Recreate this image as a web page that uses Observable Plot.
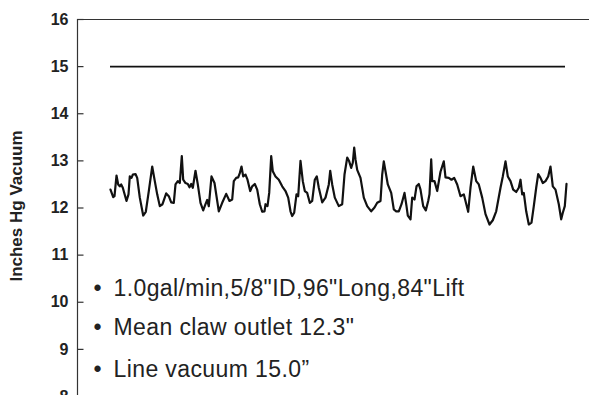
<!DOCTYPE html>
<html>
<head>
<meta charset="utf-8">
<script src="https://cdn.jsdelivr.net/npm/d3@7"></script>
<script src="https://cdn.jsdelivr.net/npm/@observablehq/plot@0.6"></script>
<style>
  body { margin: 0; background: #fff; }
  #chart svg { display: block; }
</style>
</head>
<body>
<div id="chart"></div>
<script>
// time (s) and claw outlet vacuum (in Hg)
const time = [0.66,0.714,0.74,0.78,0.814,0.846,0.874,0.906,0.98,1.02,1.046,1.08,1.106,1.16,1.194,1.246,1.314,1.366,1.426,1.494,1.546,1.594,1.646,1.70,1.774,1.826,1.874,1.926,1.96,2.006,2.046,2.086,2.114,2.16,2.206,2.24,2.274,2.306,2.36,2.406,2.46,2.514,2.56,2.594,2.626,2.68,2.74,2.826,2.894,2.974,3.04,3.094,3.126,3.174,3.214,3.246,3.28,3.314,3.36,3.40,3.454,3.494,3.546,3.594,3.646,3.694,3.74,3.76,3.80,3.834,3.874,3.906,3.96,4.026,4.094,4.16,4.214,4.26,4.294,4.334,4.38,4.414,4.46,4.506,4.546,4.594,4.646,4.694,4.746,4.786,4.826,4.894,4.96,5.026,5.054,5.094,5.146,5.226,5.294,5.34,5.394,5.434,5.474,5.506,5.534,5.56,5.594,5.66,5.726,5.794,5.874,5.94,5.994,6.06,6.094,6.126,6.16,6.206,6.274,6.326,6.374,6.426,6.48,6.54,6.58,6.606,6.66,6.694,6.74,6.78,6.826,6.86,6.914,6.966,7.014,7.04,7.074,7.094,7.14,7.194,7.26,7.326,7.36,7.426,7.48,7.534,7.594,7.66,7.726,7.814,7.86,7.914,7.974,8.026,8.094,8.16,8.24,8.306,8.374,8.46,8.506,8.56,8.606,8.66,8.714,8.774,8.826,8.86,8.894,8.926,8.974,9.026,9.08,9.126,9.174,9.214,9.26,9.306,9.36,9.414,9.46,9.506,9.56,9.626,9.674,9.706,9.746,9.78];
const vacuum = [12.39,12.23,12.25,12.69,12.50,12.46,12.50,12.43,12.15,12.29,12.67,12.64,12.71,12.72,12.64,12.22,11.84,11.92,12.36,12.88,12.57,12.29,12.04,12.08,12.31,12.25,12.12,12.11,12.50,12.57,12.53,13.10,12.60,12.53,12.51,12.44,12.51,12.43,12.79,12.50,12.11,11.95,12.08,12.17,12.04,12.67,12.53,11.93,12.11,12.30,12.15,12.18,12.57,12.64,12.65,12.74,12.88,12.67,12.71,12.60,12.36,12.46,12.51,12.39,12.08,11.92,11.93,12.08,12.04,12.32,13.10,12.78,12.67,12.60,12.46,12.36,12.22,11.93,11.83,11.90,12.29,12.25,13.00,12.57,12.36,12.32,12.11,12.15,12.60,12.67,12.43,12.12,12.22,12.50,12.79,12.50,12.22,12.04,12.08,12.71,13.07,12.99,12.85,12.96,13.28,13.03,12.81,12.64,12.22,12.04,11.93,12.01,12.11,12.15,12.71,12.99,12.78,12.50,12.32,11.97,11.93,11.93,12.08,12.32,12.04,11.84,11.76,12.22,12.18,12.46,12.51,12.39,12.04,11.95,12.15,12.29,13.03,12.57,12.57,12.36,12.77,12.99,12.65,12.64,12.60,12.64,12.50,12.25,12.29,11.92,12.43,12.88,12.57,12.50,12.22,11.87,11.65,11.74,11.93,12.43,12.67,12.99,12.67,12.57,12.39,12.34,12.43,12.60,12.29,12.32,11.93,11.65,11.69,12.04,12.43,12.72,12.64,12.53,12.57,12.67,12.88,12.46,12.39,12.08,11.76,11.90,12.04,12.51];
// line vacuum
const lineVacuum = [15.0];
const lineSpan = [0.66, 9.76];
const timeDomain = [0, 10.24];
const yDomain = [8, 16];
const yTicks = [8, 9, 10, 11, 12, 13, 14, 15, 16];
const yLabel = "Inches Hg Vacuum";
const notes = ['1.0gal/min,5/8"ID,96"Long,84"Lift', 'Mean claw outlet 12.3"', 'Line vacuum 15.0\u201d'];
const noteY = [10.49, 9.65, 8.76];

const trace = time.map((t, i) => ({t, v: vacuum[i]}));

const chart = Plot.plot({
  width: 589,
  height: 420,
  marginLeft: 77,
  marginRight: 0,
  marginTop: 19,
  marginBottom: 24,
  x: {domain: timeDomain, axis: null},
  y: {domain: yDomain, label: null},
  style: {fontFamily: "'Liberation Sans', Arial, sans-serif", background: "white", color: "#222"},
  marks: [
    Plot.ruleX([timeDomain[0]], {y1: yDomain[0], y2: yDomain[1], stroke: "#333", strokeWidth: 1.2}),
    Plot.ruleY([yDomain[1], yDomain[0]], {x1: timeDomain[0], x2: timeDomain[1], stroke: "#333", strokeWidth: 1.2}),
    Plot.ruleY(yTicks, {x1: timeDomain[0], x2: timeDomain[0] + 0.13, stroke: "#333", strokeWidth: 1.2}),
    Plot.axisY({ticks: yTicks, tickSize: 0, tickPadding: 9, fontSize: 16, fontWeight: "bold", label: null}),
    Plot.text([yLabel], {frameAnchor: "left", rotate: -90, textAnchor: "middle", dx: -61, dy: -2, fontSize: 17, fontWeight: "bold", fill: "#222"}),
    Plot.ruleY(lineVacuum, {x1: lineSpan[0], x2: lineSpan[1], stroke: "#111", strokeWidth: 1.6}),
    Plot.line(trace, {x: "t", y: "v", stroke: "#111", strokeWidth: 2.2, strokeLinejoin: "round"}),
    Plot.text(noteY, {y: d => d, text: () => "\u2022", frameAnchor: "left", dx: 16, lineAnchor: "top", fontSize: 23, fill: "#222"}),
    Plot.text(notes, {y: (d, i) => noteY[i], frameAnchor: "left", dx: 36, textAnchor: "start", lineAnchor: "top", fontSize: 23, fill: "#222"})
  ]
});
d3.select(chart).selectAll("text")
  .filter(function () { return notes.includes(this.textContent); })
  .style("letter-spacing", "0.4px");
document.getElementById("chart").append(chart);
</script>
</body>
</html>
